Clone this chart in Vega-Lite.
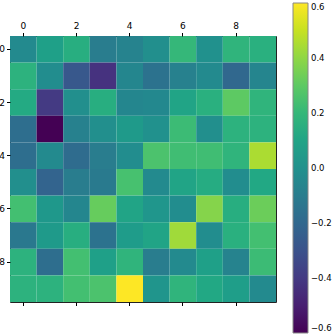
{
  "$schema": "https://vega.github.io/schema/vega-lite/v6.json",
  "width": 266,
  "height": 266,
  "autosize": "none",
  "padding": {"left": 10, "top": 36, "right": 56, "bottom": 34},
  "config": {
    "font": "DejaVu Sans",
    "view": {"stroke": "#222", "strokeWidth": 1},
    "axis": {"labelFont": "DejaVu Sans", "labelFontSize": 9, "labelColor": "#000", "tickColor": "#000", "tickSize": 3.5, "domain": false, "grid": false, "title": null, "labelAngle": 0, "labelPadding": 2},
    "legend": {"labelFont": "DejaVu Sans", "labelFontSize": 8.5, "labelColor": "#000"}
  },
  "data": {"values": [
    {"r":0,"c":0,"v":-0.03},{"r":0,"c":1,"v":0.08},{"r":0,"c":2,"v":0.15},{"r":0,"c":3,"v":-0.1},{"r":0,"c":4,"v":-0.07},{"r":0,"c":5,"v":-0.01},{"r":0,"c":6,"v":0.2},{"r":0,"c":7,"v":0.0},{"r":0,"c":8,"v":0.18},{"r":0,"c":9,"v":0.16},
    {"r":1,"c":0,"v":0.17},{"r":1,"c":1,"v":-0.02},{"r":1,"c":2,"v":-0.27},{"r":1,"c":3,"v":-0.43},{"r":1,"c":4,"v":-0.05},{"r":1,"c":5,"v":-0.15},{"r":1,"c":6,"v":-0.08},{"r":1,"c":7,"v":-0.03},{"r":1,"c":8,"v":-0.2},{"r":1,"c":9,"v":-0.06},
    {"r":2,"c":0,"v":0.13},{"r":2,"c":1,"v":-0.4},{"r":2,"c":2,"v":-0.01},{"r":2,"c":3,"v":0.15},{"r":2,"c":4,"v":-0.05},{"r":2,"c":5,"v":-0.04},{"r":2,"c":6,"v":0.1},{"r":2,"c":7,"v":0.16},{"r":2,"c":8,"v":0.3},{"r":2,"c":9,"v":0.18},
    {"r":3,"c":0,"v":-0.17},{"r":3,"c":1,"v":-0.6},{"r":3,"c":2,"v":-0.08},{"r":3,"c":3,"v":-0.01},{"r":3,"c":4,"v":0.05},{"r":3,"c":5,"v":0.0},{"r":3,"c":6,"v":0.22},{"r":3,"c":7,"v":-0.01},{"r":3,"c":8,"v":0.17},{"r":3,"c":9,"v":0.17},
    {"r":4,"c":0,"v":-0.17},{"r":4,"c":1,"v":-0.03},{"r":4,"c":2,"v":-0.18},{"r":4,"c":3,"v":-0.1},{"r":4,"c":4,"v":-0.02},{"r":4,"c":5,"v":0.26},{"r":4,"c":6,"v":0.23},{"r":4,"c":7,"v":0.23},{"r":4,"c":8,"v":0.18},{"r":4,"c":9,"v":0.45},
    {"r":5,"c":0,"v":-0.01},{"r":5,"c":1,"v":-0.22},{"r":5,"c":2,"v":-0.1},{"r":5,"c":3,"v":-0.11},{"r":5,"c":4,"v":0.25},{"r":5,"c":5,"v":-0.03},{"r":5,"c":6,"v":0.1},{"r":5,"c":7,"v":0.14},{"r":5,"c":8,"v":-0.02},{"r":5,"c":9,"v":0.12},
    {"r":6,"c":0,"v":0.24},{"r":6,"c":1,"v":0.04},{"r":6,"c":2,"v":-0.05},{"r":6,"c":3,"v":0.32},{"r":6,"c":4,"v":0.1},{"r":6,"c":5,"v":0.03},{"r":6,"c":6,"v":-0.02},{"r":6,"c":7,"v":0.38},{"r":6,"c":8,"v":0.15},{"r":6,"c":9,"v":0.33},
    {"r":7,"c":0,"v":-0.12},{"r":7,"c":1,"v":0.05},{"r":7,"c":2,"v":0.15},{"r":7,"c":3,"v":-0.15},{"r":7,"c":4,"v":0.06},{"r":7,"c":5,"v":0.1},{"r":7,"c":6,"v":0.43},{"r":7,"c":7,"v":-0.02},{"r":7,"c":8,"v":0.16},{"r":7,"c":9,"v":0.24},
    {"r":8,"c":0,"v":0.17},{"r":8,"c":1,"v":-0.17},{"r":8,"c":2,"v":0.24},{"r":8,"c":3,"v":0.08},{"r":8,"c":4,"v":0.18},{"r":8,"c":5,"v":-0.1},{"r":8,"c":6,"v":-0.03},{"r":8,"c":7,"v":0.08},{"r":8,"c":8,"v":-0.07},{"r":8,"c":9,"v":0.22},
    {"r":9,"c":0,"v":0.17},{"r":9,"c":1,"v":0.17},{"r":9,"c":2,"v":0.24},{"r":9,"c":3,"v":0.26},{"r":9,"c":4,"v":0.6},{"r":9,"c":5,"v":0.02},{"r":9,"c":6,"v":0.18},{"r":9,"c":7,"v":0.12},{"r":9,"c":8,"v":0.07},{"r":9,"c":9,"v":-0.03}
  ]},
  "layer": [
    {
      "mark": {"type": "rect", "strokeWidth": 0},
      "encoding": {
        "x": {"field": "c", "type": "ordinal", "scale": {"paddingInner": 0, "paddingOuter": 0}, "axis": {"orient": "top", "values": [0, 2, 4, 6, 8]}},
        "y": {"field": "r", "type": "ordinal", "scale": {"paddingInner": 0, "paddingOuter": 0}, "axis": {"orient": "left", "values": [0, 2, 4, 6, 8]}},
        "color": {"field": "v", "type": "quantitative", "scale": {"scheme": "viridis", "domain": [-0.6, 0.6]},
          "legend": {"title": null, "orient": "none", "direction": "vertical", "legendX": 283, "legendY": -33, "gradientLength": 330, "gradientThickness": 15, "gradientStrokeColor": "#888", "gradientStrokeWidth": 1, "values": [-0.6, -0.4, -0.2, 0.0, 0.2, 0.4, 0.6], "format": ".1f", "labelOffset": 3}}
      }
    },
    {
      "mark": {"type": "rect", "opacity": 0},
      "encoding": {
        "x": {"field": "c", "type": "ordinal", "scale": {"paddingInner": 0, "paddingOuter": 0}, "axis": {"orient": "bottom", "values": [0, 2, 4, 6, 8], "labels": false}},
        "y": {"field": "r", "type": "ordinal"}
      }
    }
  ],
  "resolve": {"axis": {"x": "independent"}}
}
